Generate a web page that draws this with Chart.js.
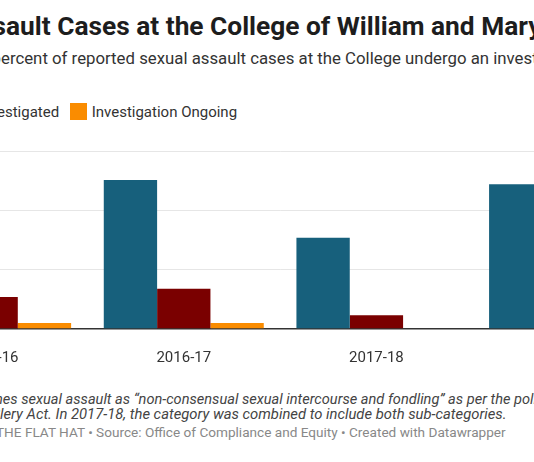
<!DOCTYPE html>
<html>
<head>
<meta charset="utf-8">
<script src="https://cdn.jsdelivr.net/npm/chart.js@4"></script>
<style>
  html, body { margin:0; padding:0; background:#fff; }
  body { width:534px; height:462px; overflow:hidden; position:relative; font-family: Roboto, "Noto Sans", sans-serif; }
  .t { position:absolute; white-space:nowrap; line-height:1; }
  .hid { position:absolute; right:100%; top:0; white-space:nowrap; }
  #title { font-size:26.3px; font-weight:700; color:#1d1d1d; left:6px; top:12.8px; }
  #sub { font-size:16.8px; color:#333; left:1px; top:49.9px; }
  #legend { font-size:15px; color:#333; left:-3px; top:103.4px; }
  .sw { display:inline-block; width:17px; height:17px; vertical-align:-3px; margin:0 5px 0 10.5px; }
  .note { font-size:14.8px; font-style:italic; color:#444; }
  #foot { font-size:13.6px; color:#888; left:-4px; top:425.6px; }
  #wrap { position:absolute; left:-120px; top:140px; width:800px; height:240px; }
</style>
</head>
<body>
<div class="t" id="title"><span class="hid">Sexual Ass</span>ault Cases at the College of William and Mary</div>
<div class="t" id="sub"><span class="hid">What p</span>ercent of reported sexual assault cases at the College undergo an investigation?</div>
<div class="t" id="legend"><span class="hid"><span class="sw" id="sw0"></span><span id="lab0"></span><span class="sw" id="sw1"></span>Inv</span><span id="lab1rest">estigated</span><span class="sw" id="sw2"></span><span id="lab2"></span></div>
<div class="t note" id="n1" style="left:-5px; top:391.6px; font-size:14.6px;"><span class="hid">*The College defi</span>nes sexual assault as “non-consensual sexual intercourse and fondling” as per the policy outlined by the</div>
<div class="t note" id="n2" style="left:0px; top:407.2px;"><span class="hid">Jeanne C</span>lery Act. In 2017-18, the category was combined to include both sub-categories.</div>
<div class="t" id="foot"><span class="hid">Chart: </span>THE FLAT HAT • Source: Office of Compliance and Equity • Created with Datawrapper</div>
<div id="wrap"><canvas id="c"></canvas></div>
<script>
const categories = ["2015-16", "2016-17", "2017-18", "2018-19"];
const seriesNames = ["Not Investigated", "Investigated", "Investigation Ongoing"];
const notInvestigated = [20, 25.1, 15.4, 24.4];
const investigated = [5.4, 6.8, 2.3, 4];
const ongoing = [1, 1, 0, 1];
const yTicks = [0, 10, 20, 30];
const colors = ["#17607c", "#7a0000", "#fa8c00"];

document.getElementById('lab0').textContent = seriesNames[0] + ' ';
document.getElementById('lab2').textContent = seriesNames[2];
['sw0','sw1','sw2'].forEach((id,i)=>document.getElementById(id).style.background = colors[i]);

const ctx = document.getElementById('c');
new Chart(ctx, {
  type: 'bar',
  data: {
    labels: categories,
    datasets: [
      { label: seriesNames[0], data: notInvestigated, backgroundColor: colors[0] },
      { label: seriesNames[1], data: investigated, backgroundColor: colors[1] },
      { label: seriesNames[2], data: ongoing, backgroundColor: colors[2] }
    ]
  },
  options: {
    responsive: true,
    maintainAspectRatio: false,
    animation: false,
    layout: { padding: { left: 14.8, right: 14.6, top: 11, bottom: 0 } },
    plugins: { legend: { display: false }, tooltip: { enabled: false } },
    datasets: { bar: { barPercentage: 1, categoryPercentage: 0.8305, borderWidth: 0 } },
    scales: {
      x: {
        grid: { display: false },
        border: { display: false },
        ticks: { color: '#333', font: { family: 'Roboto', size: 15 }, padding: 12 },
        afterFit: s => { s.height = 51; }
      },
      y: {
        min: 0, max: 30,
        afterBuildTicks: s => { s.ticks = yTicks.map(v => ({ value: v })); },
        ticks: { display: false },
        border: { display: false },
        grid: {
          color: c => c.tick && c.tick.value === 0 ? '#333' : '#e6e6e6',
          lineWidth: c => c.tick && c.tick.value === 0 ? 1.5 : 1,
          drawTicks: false
        },
        afterFit: s => { s.width = 0; }
      }
    }
  }
});
</script>
</body>
</html>
